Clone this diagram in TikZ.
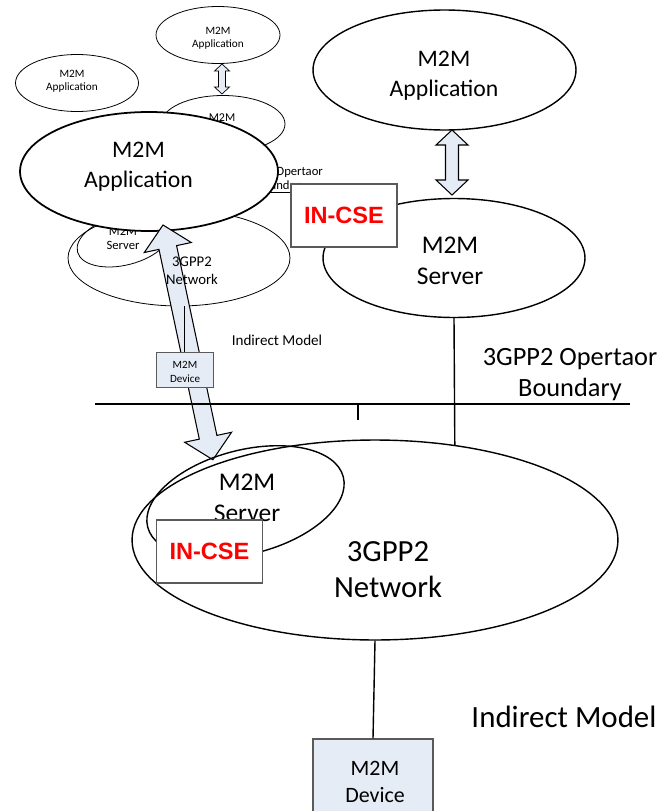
\documentclass[tikz,border=0pt]{standalone}
\usepackage{fontspec}
\setmainfont{Carlito}
\newfontfamily\arialfont{Liberation Sans}
\usetikzlibrary{shapes.geometric}
\definecolor{lightfill}{RGB}{230,236,246}
\definecolor{boxgray}{RGB}{90,90,90}

\begin{document}
\begin{tikzpicture}[x=0.02cm,y=-0.02cm,
    ell/.style={ellipse,draw,line width=0.8pt,inner sep=0pt},
    mell/.style={ellipse,draw,line width=0.45pt,inner sep=0pt},
    cse/.style={draw=boxgray,line width=0.6pt,fill=white,text=red,
      font=\arialfont\bfseries\fontsize{13.4}{16}\selectfont,
      minimum width=2.12cm,minimum height=1.26cm},
    device/.style={draw=boxgray,line width=0.6pt,fill=lightfill},
    fat/.style={draw,line width=0.6pt,fill=lightfill,line join=miter},
    txt/.style={align=center,inner sep=0pt},
    conn/.style={line width=0.8pt}
  ]
  \useasboundingbox (0,0) rectangle (661,811);

  % small copy of the picture, top left
  \node[mell,minimum width=2.48cm,minimum height=1.14cm] (mappR) at (218,35) {};
  \node[txt,font=\fontsize{6.4}{7.3}\selectfont] (mappRtxt) at (218,38) {M2M\\Application};
  \node[mell,minimum width=2.48cm,minimum height=1.14cm] (msrvR) at (223,124) {};
  \node[txt,font=\fontsize{6.8}{7.9}\selectfont] (msrvRtxt) at (222,125) {M2M\\Server};
  \node[mell,minimum width=2.46cm,minimum height=1.14cm] (mappL) at (77,83) {};
  \node[txt,font=\fontsize{6.4}{7.3}\selectfont] (mappLtxt) at (72,81) {M2M\\Application};
  \begin{scope}[shift={(222,64)},rotate=-90]
    \draw[fat,line width=0.4pt] (0,0) -- (7,7.5) -- (7,3.5) -- (23,3.5) -- (23,7.5) -- (30,0)
      -- (23,-7.5) -- (23,-3.5) -- (7,-3.5) -- (7,-7.5) -- cycle;
  \end{scope}
  \begin{scope}
    \clip (264,150) rectangle (340,200);
    \node[txt,font=\fontsize{7.2}{7.9}\selectfont] (mbnd) at (281,179) {3GPP2 Opertaor\\Boundary};
  \end{scope}
  \coordinate (mbndL) at (256,192);
  \coordinate (mbndR) at (306,192);
  \draw[line width=0.45pt] (mbndL) -- (mbndR);
  \node[mell,minimum width=4.44cm,minimum height=1.92cm] (mnet) at (179,258) {};
  \node[mell,rotate=14.4,minimum width=1.92cm,minimum height=1.0cm] (msrvL) at (124,240) {};
  \node[txt,font=\fontsize{7.2}{8}\selectfont] (msrvLtxt) at (123,238) {M2M\\Server};

  % big application in front of the copy
  \node[ell,fill=white,line width=1pt,minimum width=5.16cm,minimum height=2.38cm] (appL) at (149,171.5) {};
  \node[txt,font=\fontsize{13.5}{17}\selectfont] (appLtxt) at (138.5,167) {M2M\\Application};

  % fat double arrow
  \coordinate (tipA) at (163,225);
  \coordinate (tipB) at (213,460);
  \begin{scope}[shift={(tipA)},rotate=-78]
    \draw[fat] (0,0) -- (23,24) -- (23,9) -- (217,9) -- (217,24) -- (240,0)
      -- (217,-24) -- (217,-9) -- (23,-9) -- (23,-24) -- cycle;
  \end{scope}

  \node[txt,font=\fontsize{8.4}{10.2}\selectfont] (mnettxt) at (192,271) {3GPP2\\Network};
  \node[device,line width=0.45pt,minimum width=1.14cm,minimum height=0.7cm] (mdev) at (184.5,369.5) {};
  \node[txt,font=\fontsize{6.3}{8}\selectfont] (mdevtxt) at (185,371.5) {M2M\\Device};
  \draw[line width=0.45pt] (mdev.north) -- (mdev.north |- mnet.south);
  \node[txt,font=\fontsize{8.6}{10}\selectfont] (mind) at (277,340) {Indirect Model};

  % main picture
  \node[ell,minimum width=5.26cm,minimum height=2.4cm] (appR) at (444.5,70) {};
  \node[txt,font=\fontsize{13.5}{17}\selectfont] (appRtxt) at (444,76) {M2M\\Application};
  \begin{scope}[shift={(452,130)},rotate=-90]
    \draw[fat] (0,0) -- (15,16) -- (15,6.5) -- (50,6.5) -- (50,16) -- (65,0)
      -- (50,-16) -- (50,-6.5) -- (15,-6.5) -- (15,-16) -- cycle;
  \end{scope}
  \node[ell,minimum width=5.24cm,minimum height=2.38cm] (srvR) at (454,258) {};
  \node[txt,font=\fontsize{14.5}{18}\selectfont] (srvRtxt) at (450,261) {M2M\\Server};
  \node[cse] (cseR) at (344,215.5) {IN-CSE};

  \node[txt,font=\fontsize{15}{17.6}\selectfont] (bnd) at (570,375) {3GPP2 Opertaor\\Boundary};
  \coordinate (bndL) at (95,404);
  \coordinate (bndR) at (630,404);
  \coordinate (tickA) at (358,404);
  \coordinate (tickB) at (358,420);
  \draw[conn] (bndL) -- (bndR);
  \draw[conn] (tickA) -- (tickB);

  \node[ell,minimum width=9.72cm,minimum height=4cm] (net) at (375,540) {};
  \node[txt,font=\fontsize{17.5}{20.4}\selectfont] (nettxt) at (388,570) {3GPP2\\Network};
  \node[ell,rotate=14.4,minimum width=4.04cm,minimum height=2.08cm] (srvL) at (245.5,502) {};
  \node[txt,font=\fontsize{14.5}{17.6}\selectfont] (srvLtxt) at (247,497.5) {M2M\\Server};
  \node[cse] (cseL) at (209.5,551.5) {IN-CSE};

  \draw[conn] (srvR.south) -- (net.50);
  \node[device,minimum width=2.4cm,minimum height=1.48cm] (dev) at (373,776) {};
  \node[txt,font=\fontsize{12.5}{15.3}\selectfont] (devtxt) at (375,782) {M2M\\Device};
  \draw[conn] (net.south) -- (dev.north);
  \node[txt,font=\fontsize{17.6}{20}\selectfont] (ind) at (564,717) {Indirect Model};
\end{tikzpicture}
\end{document}
